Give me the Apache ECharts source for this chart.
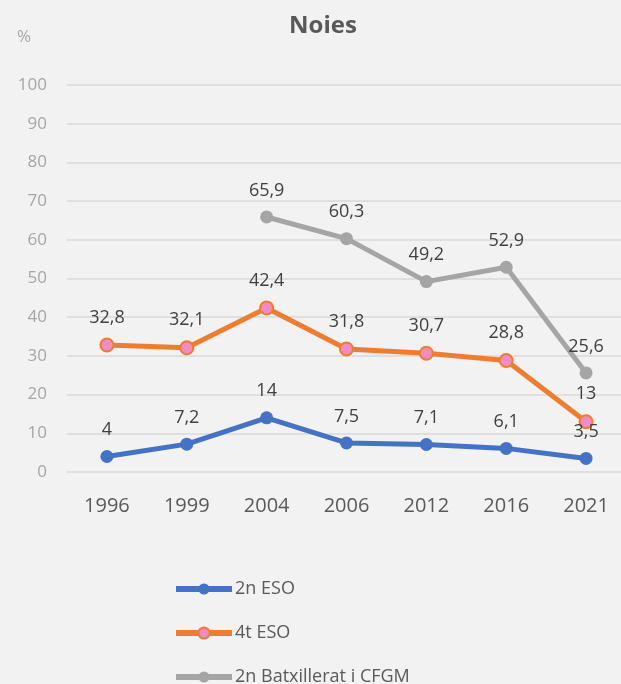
<!DOCTYPE html>
<html>
<head>
<meta charset="utf-8">
<script src="https://cdn.jsdelivr.net/npm/echarts@6/dist/echarts.min.js"></script>
<style>
  html, body { margin: 0; padding: 0; background: #f2f2f2; overflow: hidden; }
  #chart { width: 640px; height: 720px; }
</style>
</head>
<body>
<div id="chart"></div>
<script>
// dades
var anys = ['1996', '1999', '2004', '2006', '2012', '2016', '2021'];
var eso2 = [4, 7.2, 14, 7.5, 7.1, 6.1, 3.5];
var eso4 = [32.8, 32.1, 42.4, 31.8, 30.7, 28.8, 13];
var batx = [null, null, 65.9, 60.3, 49.2, 52.9, 25.6];
var yTicks = [0, 10, 20, 30, 40, 50, 60, 70, 80, 90, 100];

var fmt = function (p) {
  return String(p.value).replace('.', ',');
};

var labelStyle = {
  show: true,
  position: 'top',
  distance: 11,
  formatter: fmt,
  color: '#404040',
  fontSize: 18,
  fontFamily: 'Open Sans'
};

var chart = echarts.init(document.getElementById('chart'));
chart.setOption({
  backgroundColor: '#f2f2f2',
  animation: false,
  title: [
    {
      text: 'Noies',
      left: 318,
      top: 9,
      textAlign: 'center',
      textStyle: { fontFamily: 'Open Sans', fontWeight: 'bold', fontSize: 24, color: '#595959' }
    },
    {
      text: '%',
      left: 12,
      top: 24,
      textStyle: { fontFamily: 'Open Sans', fontWeight: 'normal', fontSize: 17, color: '#a6a6a6' }
    }
  ],
  grid: { left: 67, top: 85, width: 559, height: 387 },
  legend: {
    orient: 'vertical',
    left: 168,
    top: 574,
    itemGap: 24,
    itemWidth: 56,
    itemHeight: 14,
    lineStyle: { width: 6 },
    textStyle: { fontFamily: 'Open Sans', fontSize: 18, lineHeight: 20, color: '#595959', padding: [0, 0, 0, -2] },
    data: ['2n ESO', '4t ESO', '2n Batxillerat i CFGM']
  },
  xAxis: {
    type: 'category',
    data: anys,
    axisLine: { show: false },
    axisTick: { show: false },
    axisLabel: { color: '#595959', fontSize: 20, fontFamily: 'Open Sans', margin: 24 }
  },
  yAxis: {
    type: 'value',
    min: yTicks[0],
    max: yTicks[yTicks.length - 1],
    interval: 10,
    axisLine: { show: false },
    axisTick: { show: false },
    axisLabel: { color: '#a6a6a6', fontSize: 17, fontFamily: 'Open Sans', margin: 20 },
    splitLine: { lineStyle: { color: '#d9d9d9', width: 1.5 } }
  },
  series: [
    {
      name: '2n ESO',
      type: 'line',
      data: eso2,
      symbol: 'circle',
      symbolSize: 13,
      lineStyle: { color: '#4472c4', width: 5 },
      itemStyle: { color: '#4472c4' },
      label: labelStyle
    },
    {
      name: '4t ESO',
      type: 'line',
      data: eso4,
      symbol: 'circle',
      symbolSize: 13,
      lineStyle: { color: '#ed7d31', width: 5 },
      itemStyle: { color: '#f08cc0', borderColor: '#ed7d31', borderWidth: 2 },
      label: labelStyle
    },
    {
      name: '2n Batxillerat i CFGM',
      type: 'line',
      data: batx,
      symbol: 'circle',
      symbolSize: 13,
      lineStyle: { color: '#a5a5a5', width: 5 },
      itemStyle: { color: '#a5a5a5' },
      label: labelStyle
    }
  ]
});
</script>
</body>
</html>
